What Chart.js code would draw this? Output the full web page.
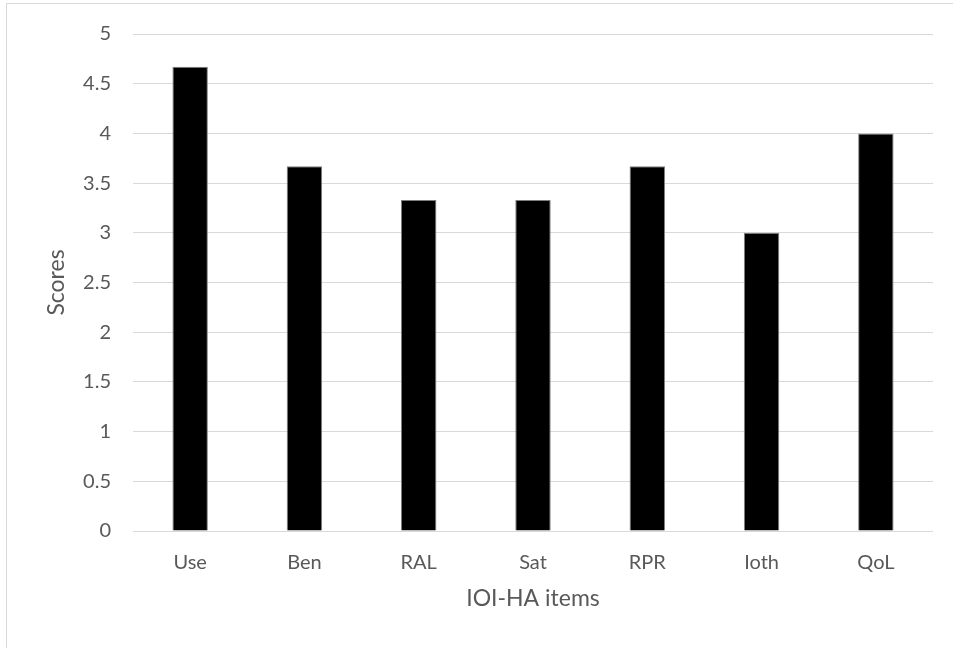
<!DOCTYPE html>
<html>
<head>
<meta charset="utf-8">
<script src="https://cdn.jsdelivr.net/npm/chart.js@4/dist/chart.umd.min.js"></script>
<style>
  html, body { margin: 0; padding: 0; background: #fff; }
  #wrap { position: absolute; left: 0; top: 0; width: 953px; height: 648px; }
  #frame { position: absolute; left: 6px; top: 3px; width: 960px; height: 660px;
           border-top: 1px solid #d9d9d9; border-left: 1px solid #d9d9d9; }
  canvas { position: absolute; left: 0; top: 0; }
</style>
</head>
<body>
<div id="wrap">
  <div id="frame"></div>
  <canvas id="chart" width="953" height="648"></canvas>
</div>
<script>
// IOI-HA item scores
const items = ['Use', 'Ben', 'RAL', 'Sat', 'RPR', 'Ioth', 'QoL'];
const scores = [4.67, 3.67, 3.33, 3.33, 3.67, 3.0, 4.0];
const yTickValues = [0, 0.5, 1, 1.5, 2, 2.5, 3, 3.5, 4, 4.5, 5];

const textColor = '#595959';
const gridColor = '#d9d9d9';
const fontFamily = 'Lato, "Open Sans", sans-serif';

new Chart(document.getElementById('chart'), {
  type: 'bar',
  data: {
    labels: items,
    datasets: [{
      data: scores,
      backgroundColor: '#000000',
      borderColor: '#7f7f7f',
      borderWidth: 1,
      categoryPercentage: 1,
      barPercentage: 0.31
    }]
  },
  options: {
    responsive: false,
    animation: false,
    layout: { padding: { top: 32, right: 20, left: 0, bottom: 0 } },
    plugins: { legend: { display: false }, tooltip: { enabled: false } },
    scales: {
      x: {
        grid: { display: false },
        border: { display: false },
        ticks: { color: textColor, font: { family: fontFamily, size: 20 }, padding: 12 },
        title: {
          display: true, text: 'IOI-HA items', color: textColor,
          font: { family: fontFamily, size: 23 }, padding: { top: 0, bottom: 36 }
        },
        afterFit: (s) => { s.height = 117; }
      },
      y: {
        min: 0, max: 5,
        afterBuildTicks: (s) => { s.ticks = yTickValues.map(v => ({ value: v })); },
        grid: { color: gridColor, lineWidth: 1, drawTicks: false },
        border: { display: false },
        ticks: {
          color: textColor, font: { family: fontFamily, size: 20 }, padding: 22,
          callback: (v) => String(v)
        },
        title: {
          display: true, text: 'Scores', color: textColor,
          font: { family: fontFamily, size: 23 }, padding: { top: 43, bottom: 0 }
        },
        afterFit: (s) => { s.width = 133; }
      }
    }
  }
});
</script>
</body>
</html>
